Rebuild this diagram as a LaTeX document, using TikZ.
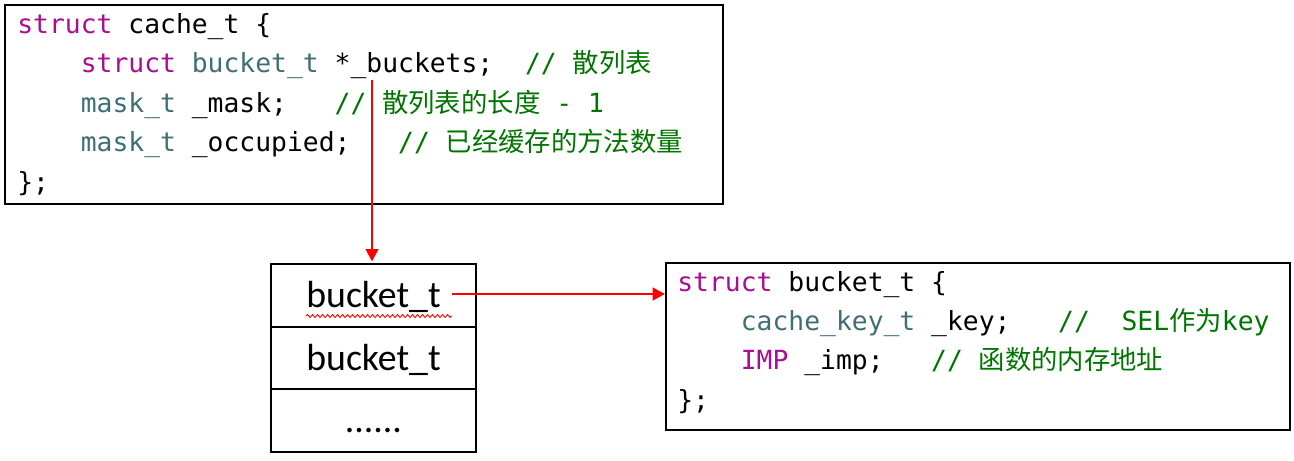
\documentclass[tikz,border=0pt]{standalone}
\usepackage{fontspec}
\setmonofont{DejaVu Sans Mono}
\newfontfamily\cjk{Noto Sans CJK SC}
\newfontfamily\cellfont{Carlito}
\usetikzlibrary{arrows.meta,decorations.pathmorphing}
\definecolor{kwcol}{RGB}{170,13,145}
\definecolor{tycol}{RGB}{63,110,116}
\definecolor{cmcol}{RGB}{0,116,0}
\newcommand{\kw}[1]{\textcolor{kwcol}{#1}}
\newcommand{\ty}[1]{\textcolor{tycol}{#1}}
\newcommand{\cmt}[1]{\textcolor{cmcol}{#1}}
\newcommand{\zh}[1]{{\cjk #1}}

\begin{document}
\begin{tikzpicture}[x=0.02cm, y=-0.02cm]
		\tikzstyle{box}=[draw, line width=1.1pt, inner sep=0pt]
		\tikzstyle{code}=[anchor=base west, inner sep=0pt, font=\fontsize{15pt}{18pt}\selectfont\ttfamily]
		\tikzstyle{cell}=[box, minimum width=4.1cm, minimum height=1.25cm, text height=16pt, text depth=2pt, font=\fontsize{21.5pt}{24pt}\selectfont\cellfont]
		\tikzstyle{ptr}=[-{Triangle[length=0.25cm, width=0.25cm]}, red, line width=1.6pt]
		\useasboundingbox (0,0) rectangle (1294,460);
		
		% struct cache_t
		\node[box, minimum width=14.36cm, minimum height=3.98cm] (cache) at (364,104.5) {};
		\node[code] (c1) at (17,33) {\kw{struct} cache\_t \{};
		\node[code] (c2) at (17,72.5) {~~~~\kw{struct} \ty{bucket\_t} *\_buckets;~~\cmt{// \zh{散列表}}};
		\node[code] (c3) at (17,112) {~~~~\ty{mask\_t} \_mask;~~~\cmt{// \zh{散列表的长度} - 1}};
		\node[code] (c4) at (17,151.5) {~~~~\ty{mask\_t} \_occupied;~~~\cmt{// \zh{已经缓存的方法数量}}};
		\node[code] (c5) at (17,191) {\};};
		
		% the buckets
		\node[cell] (b1) at (373.5,295.5) {bucket\_t};
		\node[cell] (b2) at (373.5,358) {bucket\_t};
		\node[cell] (b3) at (373.5,420.5) {......};
		\draw[red, line width=0.5pt, decorate, decoration={snake, amplitude=0.03cm, segment length=0.1cm}] (306,316) -- (452,316);
		
		% struct bucket_t
		\node[box, minimum width=12.48cm, minimum height=3.34cm] (bucket) at (978,346.5) {};
		\node[code] (d1) at (677,291) {\kw{struct} bucket\_t \{};
		\node[code] (d2) at (677,330.3) {~~~~\ty{cache\_key\_t} \_key;~~~\cmt{//~~SEL\zh{作为}key}};
		\node[code] (d3) at (677,369.6) {~~~~\kw{IMP} \_imp;~~~\cmt{// \zh{函数的内存地址}}};
		\node[code] (d4) at (677,409) {\};};
		
		\coordinate (src) at (372,80);
		\coordinate (item) at (452,294);
		\draw[ptr, shorten >=1pt] (src) -- (src |- b1.north);
		\draw[ptr] (item) -- (item -| bucket.west);
\end{tikzpicture}
\end{document}
